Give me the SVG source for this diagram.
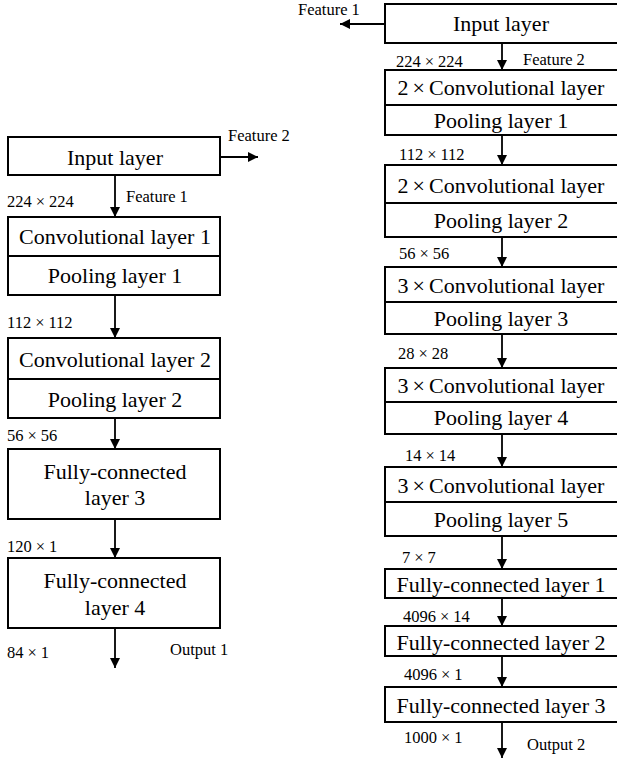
<svg xmlns="http://www.w3.org/2000/svg" width="617" height="762" viewBox="0 0 617 762">
<defs>
<marker id="ah" viewBox="0 0 10 10" refX="10" refY="5" markerWidth="10" markerHeight="11" markerUnits="userSpaceOnUse" orient="auto">
<path d="M0,0 L10,5 L0,10 z" fill="#000"/>
</marker>
<style>
.box{fill:#fff;stroke:#000;stroke-width:2}
.div{stroke:#000;stroke-width:2}
.t{font-size:22px;text-anchor:middle;fill:#000}
.s{font-size:16.5px;fill:#000}
.c{stroke:#000;stroke-width:1.8;fill:none;marker-end:url(#ah)}
</style>
</defs>
<rect width="617" height="762" fill="#fff"/>
<g id="connectors">
<line class="c" x1="220" y1="157" x2="258" y2="157"/>
<line class="c" x1="115" y1="175" x2="115" y2="217"/>
<line class="c" x1="115" y1="295" x2="115" y2="338"/>
<line class="c" x1="115" y1="418" x2="115" y2="449"/>
<line class="c" x1="115" y1="519" x2="115" y2="558"/>
<line class="c" x1="115" y1="628" x2="115" y2="668"/>
<line class="c" x1="385" y1="24" x2="340" y2="24"/>
<line class="c" x1="502" y1="43" x2="502" y2="70"/>
<line class="c" x1="502" y1="135" x2="502" y2="165"/>
<line class="c" x1="502" y1="237" x2="502" y2="267"/>
<line class="c" x1="502" y1="334" x2="502" y2="368"/>
<line class="c" x1="502" y1="434" x2="502" y2="467"/>
<line class="c" x1="502" y1="536" x2="502" y2="569"/>
<line class="c" x1="502" y1="598" x2="502" y2="626"/>
<line class="c" x1="502" y1="656" x2="502" y2="687"/>
<line class="c" x1="502" y1="722" x2="502" y2="758"/>
</g>
<g font-family="Liberation Serif, Times New Roman, DejaVu Serif, serif">
<g id="labels">
<text class="s" x="228" y="141">Feature 2</text>
<text class="s" x="7" y="207">224<tspan dx="4">×</tspan><tspan dx="4">224</tspan></text>
<text class="s" x="126" y="202">Feature 1</text>
<text class="s" x="7" y="328">112<tspan dx="4">×</tspan><tspan dx="4">112</tspan></text>
<text class="s" x="7" y="441">56<tspan dx="4">×</tspan><tspan dx="4">56</tspan></text>
<text class="s" x="7" y="552">120<tspan dx="4">×</tspan><tspan dx="4">1</tspan></text>
<text class="s" x="7" y="658">84<tspan dx="4">×</tspan><tspan dx="4">1</tspan></text>
<text class="s" x="170" y="655">Output 1</text>
<text class="s" x="298" y="15">Feature 1</text>
<text class="s" x="396" y="67">224<tspan dx="4">×</tspan><tspan dx="4">224</tspan></text>
<text class="s" x="523" y="65">Feature 2</text>
<text class="s" x="399" y="160">112<tspan dx="4">×</tspan><tspan dx="4">112</tspan></text>
<text class="s" x="399" y="259">56<tspan dx="4">×</tspan><tspan dx="4">56</tspan></text>
<text class="s" x="398" y="359">28<tspan dx="4">×</tspan><tspan dx="4">28</tspan></text>
<text class="s" x="405" y="461">14<tspan dx="4">×</tspan><tspan dx="4">14</tspan></text>
<text class="s" x="402" y="563">7<tspan dx="4">×</tspan><tspan dx="4">7</tspan></text>
<text class="s" x="403" y="622">4096<tspan dx="4">×</tspan><tspan dx="4">14</tspan></text>
<text class="s" x="404" y="680">4096<tspan dx="4">×</tspan><tspan dx="4">1</tspan></text>
<text class="s" x="404" y="743">1000<tspan dx="4">×</tspan><tspan dx="4">1</tspan></text>
<text class="s" x="527" y="750">Output 2</text>
</g>
<g id="L-input"><rect class="box" x="8" y="137" width="212" height="38"/><text class="t" x="115" y="165">Input layer</text></g>
<g id="L-conv1"><rect class="box" x="8" y="217" width="212" height="78"/><line class="div" x1="8" y1="256" x2="220" y2="256"/><text class="t" x="115" y="244">Convolutional layer 1</text><text class="t" x="115" y="283">Pooling layer 1</text></g>
<g id="L-conv2"><rect class="box" x="8" y="338" width="212" height="80"/><line class="div" x1="8" y1="379" x2="220" y2="379"/><text class="t" x="115" y="367">Convolutional layer 2</text><text class="t" x="115" y="407">Pooling layer 2</text></g>
<g id="L-fc3"><rect class="box" x="8" y="449" width="212" height="70"/><text class="t" x="115" y="479">Fully-connected</text><text class="t" x="115" y="505">layer 3</text></g>
<g id="L-fc4"><rect class="box" x="8" y="558" width="212" height="70"/><text class="t" x="115" y="588">Fully-connected</text><text class="t" x="115" y="615">layer 4</text></g>
<g id="R-input"><rect class="box" x="385" y="4" width="240" height="39"/><text class="t" x="501" y="31">Input layer</text></g>
<g id="R-block1"><rect class="box" x="385" y="70" width="240" height="65"/><line class="div" x1="385" y1="105" x2="625" y2="105"/><text class="t" x="501" y="95">2<tspan dx="4">×</tspan><tspan dx="4">Convolutional layer</tspan></text><text class="t" x="501" y="128">Pooling layer 1</text></g>
<g id="R-block2"><rect class="box" x="385" y="165" width="240" height="72"/><line class="div" x1="385" y1="203" x2="625" y2="203"/><text class="t" x="501" y="193">2<tspan dx="4">×</tspan><tspan dx="4">Convolutional layer</tspan></text><text class="t" x="501" y="228">Pooling layer 2</text></g>
<g id="R-block3"><rect class="box" x="385" y="267" width="240" height="67"/><line class="div" x1="385" y1="302" x2="625" y2="302"/><text class="t" x="501" y="293">3<tspan dx="4">×</tspan><tspan dx="4">Convolutional layer</tspan></text><text class="t" x="501" y="326">Pooling layer 3</text></g>
<g id="R-block4"><rect class="box" x="385" y="368" width="240" height="66"/><line class="div" x1="385" y1="402" x2="625" y2="402"/><text class="t" x="501" y="393">3<tspan dx="4">×</tspan><tspan dx="4">Convolutional layer</tspan></text><text class="t" x="501" y="425">Pooling layer 4</text></g>
<g id="R-block5"><rect class="box" x="385" y="467" width="240" height="69"/><line class="div" x1="385" y1="502" x2="625" y2="502"/><text class="t" x="501" y="493">3<tspan dx="4">×</tspan><tspan dx="4">Convolutional layer</tspan></text><text class="t" x="501" y="527">Pooling layer 5</text></g>
<g id="R-fc1"><rect class="box" x="385" y="569" width="240" height="29"/><text class="t" x="501" y="592">Fully-connected layer 1</text></g>
<g id="R-fc2"><rect class="box" x="385" y="626" width="240" height="30"/><text class="t" x="501" y="650">Fully-connected layer 2</text></g>
<g id="R-fc3"><rect class="box" x="385" y="687" width="240" height="35"/><text class="t" x="501" y="713">Fully-connected layer 3</text></g>
</g>
</svg>
